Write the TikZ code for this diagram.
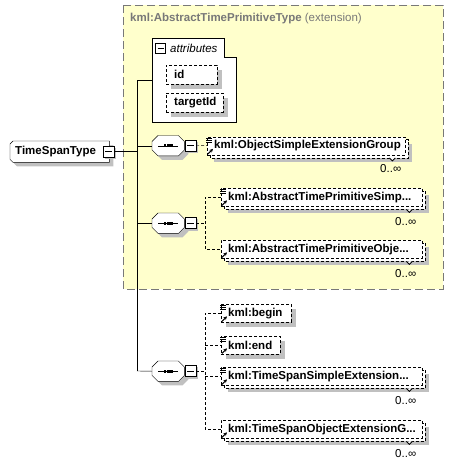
\documentclass[tikz,border=0pt]{standalone}
\usepackage{fontspec}
\setmainfont{Liberation Sans}
\usetikzlibrary{arrows.meta}
\pgfdeclarelayer{bg}
\pgfdeclarelayer{shd}
\pgfsetlayers{bg,shd,main}
\definecolor{yel}{RGB}{255,255,204}
\definecolor{shdc}{RGB}{192,192,192}
\definecolor{ttlc}{RGB}{120,120,120}
\newcommand\fs{\fontsize{11.5}{13}\selectfont}
\newcommand\octpath[2]{([xshift=#2+6pt,yshift=-#2]#1.north west) -- ([xshift=#2-6pt,yshift=-#2]#1.north east) -- ([xshift=#2,yshift=-#2-6pt]#1.north east) -- ([xshift=#2,yshift=-#2+6pt]#1.south east) -- ([xshift=#2-6pt,yshift=-#2]#1.south east) -- ([xshift=#2+6pt,yshift=-#2]#1.south west) -- ([xshift=#2,yshift=-#2+6pt]#1.south west) -- ([xshift=#2,yshift=-#2-6pt]#1.north west) -- cycle}
\newcommand\seqdraw[1]{%
  \begin{pgfonlayer}{shd}
    \fill[shdc] \octpath{#1}{4pt};
    \draw[fill=white] \octpath{#1}{0pt};
  \end{pgfonlayer}
  \draw ([xshift=6pt]#1.west) -- ([xshift=-6pt]#1.east);
  \foreach \dx in {-3.4,0,3.4}{\fill ([xshift=\dx pt]#1.center) +(-1.3,-1.3) rectangle +(1.3,1.3);}}
\newcommand\minusshadow[1]{%
  \begin{pgfonlayer}{shd}
    \fill[shdc] ([xshift=2pt,yshift=-2pt]#1.north west) rectangle ([xshift=2pt,yshift=-2pt]#1.south east);
  \end{pgfonlayer}}
\newcommand\singleshadow[1]{%
  \begin{pgfonlayer}{shd}
    \fill[shdc] ([xshift=5pt,yshift=-5pt]#1.north west) rectangle ([xshift=5pt,yshift=-5pt]#1.south east);
  \end{pgfonlayer}}
\newcommand\multishadow[1]{%
  \begin{pgfonlayer}{shd}
    \fill[shdc] ([xshift=7pt,yshift=-7pt]#1.north west) rectangle ([xshift=7pt,yshift=-7pt]#1.south east);
    \draw[dsh,fill=white] ([xshift=3pt,yshift=-3pt]#1.north west) rectangle ([xshift=3pt,yshift=-3pt]#1.south east);
    \draw[line width=0.8pt,fill=white] ([xshift=-16pt,yshift=-3pt]#1.south east) -- ++(3,3) -- ++(3,-3);
  \end{pgfonlayer}}
\newcommand\linesicon[1]{\foreach \d in {1.5,3.5,5.5}{\draw[line width=0.8pt] ([xshift=-1pt,yshift=-\d pt]#1.north west) -- ++(6,0);}}
\newcommand\refarrow[1]{\draw[line width=1pt,-{Stealth[length=3.5pt,width=3.5pt]}] ([xshift=1pt,yshift=1pt]#1.south west) -- ++(5,-5);}
\begin{document}
\begin{tikzpicture}[x=1pt,y=-1pt,line width=1pt,
  dsh/.style={dash pattern=on 3pt off 2pt},
  elem/.style={draw,dsh,fill=white,anchor=north west,inner xsep=7pt,inner ysep=0pt,minimum height=18pt,align=left,font=\fs\bfseries},
  attrel/.style={draw,dsh,fill=white,anchor=north west,inner xsep=8pt,inner ysep=0pt,minimum height=19pt,align=left,font=\fs\bfseries},
  conn/.style={dsh},
  minus/.style={draw,fill=white,minimum size=11pt,inner sep=0pt,path picture={\draw[line width=1pt] ([xshift=2pt]path picture bounding box.west) -- ([xshift=-2pt]path picture bounding box.east);}},
  card/.style={anchor=east,inner sep=0pt,font=\fs},
  seqn/.style={anchor=north west,minimum width=32pt,minimum height=20pt,inner sep=0pt},
]
\useasboundingbox (0,0) rectangle (453,464);
% extension area
\begin{pgfonlayer}{bg}
  \draw[ttlc,dash pattern=on 8pt off 4pt,fill=yel] (123,5) rectangle (443,289);
  \draw[fill=white] (152,38) -- (224,38) -- (224,57) -- (236,57) -- (236,122) -- (152,122) -- cycle;
\end{pgfonlayer}
\node[anchor=west,inner sep=0pt,font=\fs,text=ttlc] (ttl) at (130,19) {\bfseries kml:AbstractTimePrimitiveType\mdseries\ (extension)};
% attributes
\node[anchor=north west,minimum width=84pt,minimum height=84pt,inner sep=0pt] (attr) at (152,38) {};
\node[minus,minimum size=10pt] (am) at (160.5,48) {};
\node[anchor=west,inner sep=0pt,font=\fs\itshape] (al) at (170,48) {attributes};
\node[attrel,text width=35pt] (id) at (166,65) {id};
\node[attrel,text width=41pt] (tid) at (166,93) {targetId};
\singleshadow{id}\singleshadow{tid}
% root
\node[anchor=north west,inner xsep=5pt,inner ysep=0pt,text width=89pt,align=left,minimum height=21pt,font=\fs\bfseries] (ts) at (10,141) {TimeSpanType};
\begin{pgfonlayer}{shd}
  \fill[shdc] ([xshift=7pt,yshift=-4pt]ts.north west) -- ([xshift=4pt,yshift=-4pt]ts.north east) -- ([xshift=4pt,yshift=-4pt]ts.south east) -- ([xshift=7pt,yshift=-4pt]ts.south west) -- ([xshift=4pt,yshift=-1pt]ts.south west) -- ([xshift=4pt,yshift=-7pt]ts.north west) -- cycle;
  \draw[fill=white] ([xshift=3pt]ts.north west) -- (ts.north east) -- (ts.south east) -- ([xshift=3pt]ts.south west) -- ([yshift=3pt]ts.south west) -- ([yshift=-3pt]ts.north west) -- cycle;
\end{pgfonlayer}
\node[minus] (tsm) at (108.5,151.5) {};
\minusshadow{tsm}
% sequences
\node[seqn] (s1) at (152,135.5) {};
\node[seqn] (s2) at (152,213) {};
\node[seqn] (s3) at (152,361) {};
\seqdraw{s1}\seqdraw{s2}\seqdraw{s3}
\node[minus] (m1) at (190.5,145.5) {};
\node[minus] (m2) at (190.5,223) {};
\node[minus] (m3) at (190.5,371) {};
\minusshadow{m1}\minusshadow{m2}\minusshadow{m3}
% elements
\node[elem,text width=184pt] (e1) at (207,136.5) {kml:ObjectSimpleExtensionGroup};
\node[elem,text width=187pt] (e2) at (221,188) {kml:AbstractTimePrimitiveSimp...};
\node[elem,text width=187pt] (e3) at (221,240) {kml:AbstractTimePrimitiveObje...};
\node[elem,text width=56pt] (e4) at (221,304) {kml:begin};
\node[elem,text width=45pt] (e5) at (221,336) {kml:end};
\node[elem,text width=187pt] (e6) at (221,367) {kml:TimeSpanSimpleExtension...};
\node[elem,text width=187pt] (e7) at (221,420) {kml:TimeSpanObjectExtensionG...};
\multishadow{e1}\multishadow{e2}\multishadow{e3}\singleshadow{e4}\singleshadow{e5}\multishadow{e6}\multishadow{e7}
\linesicon{e1}\linesicon{e2}\linesicon{e4}\linesicon{e5}\linesicon{e6}
\refarrow{e1}\refarrow{e2}\refarrow{e3}\refarrow{e4}\refarrow{e5}\refarrow{e6}\refarrow{e7}
\node[card] (c1) at ([xshift=-4pt,yshift=-14pt]e1.south east) {0..∞};
\node[card] (c2) at ([xshift=-6pt,yshift=-15pt]e2.south east) {0..∞};
\node[card] (c3) at ([xshift=-6pt,yshift=-15pt]e3.south east) {0..∞};
\node[card] (c6) at ([xshift=-6pt,yshift=-15pt]e6.south east) {0..∞};
\node[card] (c7) at ([xshift=-6pt,yshift=-15pt]e7.south east) {0..∞};
% connectors
\coordinate (tA) at (137,80);
\coordinate (tB) at (137,371);
\coordinate (b2) at (205,223);
\coordinate (b3) at (205,371);
\draw (tA) -- (tB);
\draw (tA) -- (tA -| attr.west);
\draw (tsm.east) -- (tsm.east -| tA);
\draw (s1.west -| tA) -- (s1.west);
\draw (s2.west -| tA) -- (s2.west);
\draw (tB) -- (s3.west);
\draw[conn] (m1.east) -- (e1.west);
\draw[conn] (m2.east) -- (b2);
\draw[conn] (e2.west) -- (e2.west -| b2) -- (e3.west -| b2) -- (e3.west);
\draw[conn] (m3.east) -- (b3);
\draw[conn] (e4.west) -- (e4.west -| b3) -- (e7.west -| b3) -- (e7.west);
\draw[conn] (e5.west -| b3) -- (e5.west);
\draw[conn] (e6.west -| b3) -- (e6.west);
\end{tikzpicture}
\end{document}
